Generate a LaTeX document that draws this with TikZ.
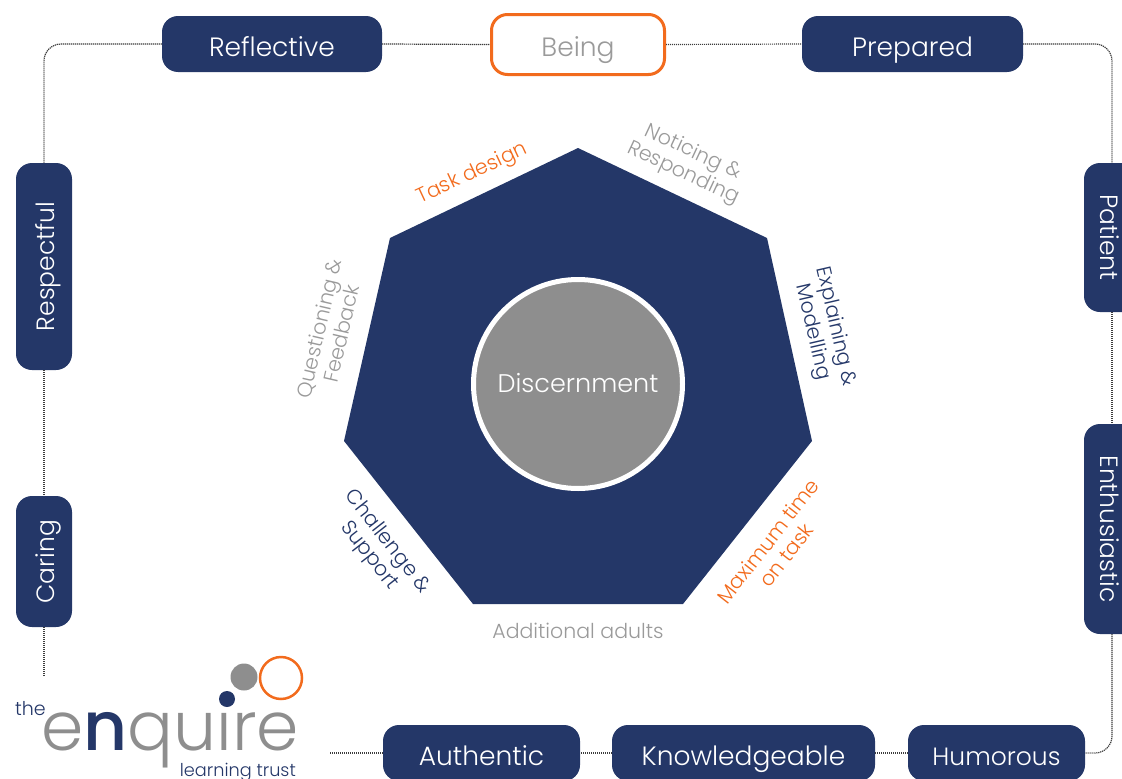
\documentclass[tikz,border=0pt]{standalone}
\usepackage{fontspec}
\setmainfont{Poppins}[UprightFont=* Light,BoldFont=* Medium]
\definecolor{navy}{HTML}{243768}
\definecolor{ornge}{HTML}{F26B1D}
\definecolor{gry}{HTML}{8E8E8E}
\definecolor{lblgry}{HTML}{9A9A9A}
\definecolor{dotc}{HTML}{3C3C3C}
\tikzset{
 box/.style={fill=navy,text=white,rounded corners=16pt,font=\fontsize{26.5}{28}\selectfont,inner sep=0pt,anchor=center,text height=24pt,text depth=0pt},
 vbox/.style={box,font=\fontsize{25}{28}\selectfont,text height=20pt},
 link/.style={draw=dotc,line width=1.2pt,dash pattern=on 1.2pt off 0.8pt,rounded corners=17pt},
 lbl/.style={font=\fontsize{20.5}{23}\selectfont,align=center,inner sep=0pt},
}
\begin{document}
\begin{tikzpicture}[x=1pt,y=-1pt]
\useasboundingbox (0,0) rectangle (1122,779);
\clip (0,0) rectangle (1122,779);
% boxes
\node[box,minimum width=220pt,minimum height=56pt] (reflective) at (272,44) {Reflective};
\node[box,fill=white,draw=ornge,line width=3pt,text=lblgry,minimum width=173pt,minimum height=60pt] (being) at (578,44.5) {Being};
\node[box,minimum width=221pt,minimum height=56pt] (prepared) at (912.5,44) {Prepared};
\node[vbox,rotate=90,minimum width=207pt,minimum height=56pt] (respectful) at (44,266.5) {Respectful};
\node[vbox,rotate=90,minimum width=131pt,minimum height=56pt] (caring) at (44,561.5) {Caring};
\node[vbox,text height=24pt,rotate=-90,minimum width=149pt,minimum height=56pt] (patient) at (1112,237.5) {Patient};
\node[vbox,text height=24pt,rotate=-90,minimum width=210pt,minimum height=56pt] (enthusiastic) at (1112,529) {Enthusiastic};
\node[box,minimum width=197pt,minimum height=56pt] (authentic) at (481.5,753) {Authentic};
\node[box,minimum width=263pt,minimum height=56pt] (knowledgeable) at (743.5,753) {Knowledgeable};
\node[vbox,text height=24pt,minimum width=177pt,minimum height=56pt] (humorous) at (996.5,753) {Humorous};
\coordinate (caringend) at (44,677);
\coordinate (authend) at (330,753);
% connectors
\draw[link] (reflective.west) -| (respectful.east);
\draw[link] (reflective.east) -- (being.west);
\draw[link] (being.east) -- (prepared.west);
\draw[link] (prepared.east) -| (patient.west);
\draw[link] (respectful.west) -- (caring.east);
\draw[link] (caring.west) -- (caringend);
\draw[link] (patient.east) -- (enthusiastic.west);
\draw[link] (enthusiastic.east) |- (humorous.east);
\draw[link] (humorous.west) -- (knowledgeable.east);
\draw[link] (knowledgeable.west) -- (authentic.east);
\draw[link] (authentic.west) -- (authend);
% heptagon
\fill[navy] (578,148) -- (767,238) -- (812,441) -- (683,604) -- (473,604) -- (344,441) -- (390,238) -- cycle;
\node[circle,fill=gry,draw=white,line width=5pt,minimum size=209pt,inner sep=0pt,text=white,font=\fontsize{25.5}{28}\selectfont,text height=17pt,text depth=0pt] (disc) at (578,384) {Discernment};
% labels
\node[lbl,text=ornge,rotate=25] (task) at (472.5,174) {Task design};
\node[lbl,text=lblgry,rotate=-25] (notice) at (688,163) {Noticing \&\\Responding};
\node[lbl,text=navy,rotate=-77] (explain) at (824,329.5) {Explaining \&\\Modelling};
\node[lbl,text=lblgry,rotate=77] (question) at (330,331) {Questioning \&\\Feedback};
\node[lbl,text=navy,rotate=-52] (challenge) at (378,549) {Challenge \&\\Support};
\node[lbl,text=ornge,rotate=52] (maximum) at (777,548) {Maximum time\\on task};
\node[lbl,text=lblgry] (adults) at (578,631) {Additional adults};
% logo
\node[circle,fill=gry,minimum size=27pt,inner sep=0pt] (c1) at (244,677) {};
\node[circle,draw=ornge,line width=2.5pt,minimum size=42pt,inner sep=0pt] (c2) at (281,678) {};
\node[circle,fill=navy,minimum size=16pt,inner sep=0pt] (c3) at (227,699) {};
\node[text=navy,font=\fontsize{19}{19}\selectfont,inner sep=0pt,anchor=base west] (the) at (15,715) {the};
\node[text=gry,font=\fontsize{68}{68}\selectfont,inner sep=0pt,anchor=base west] (enq) at (41,750) {e\textcolor{navy}{\bfseries n}quıre};
\node[text=navy,font=\fontsize{17.7}{18}\selectfont,inner sep=0pt,anchor=base east] (trust) at (296,776) {learning trust};
\end{tikzpicture}
\end{document}
